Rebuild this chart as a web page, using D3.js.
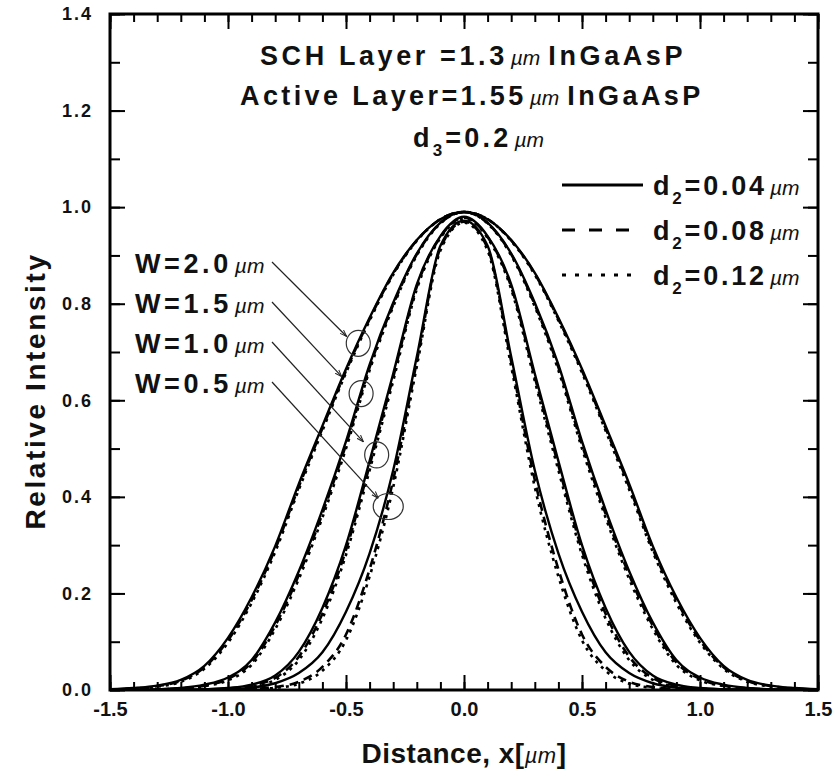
<!DOCTYPE html>
<html>
<head>
<meta charset="utf-8">
<script src="https://cdn.jsdelivr.net/npm/d3@7"></script>
<style>
  body { margin: 0; background: #fff; }
  text { font-family: "Liberation Sans", Arial, sans-serif; }
</style>
</head>
<body>
<svg width="838" height="776"></svg>
<script>
// distance grid (um)
var xValues = [-1.5, -1.4, -1.3, -1.2, -1.1, -1.0, -0.9, -0.8, -0.7, -0.6, -0.5, -0.4, -0.3, -0.2, -0.1,
  0.0, 0.1, 0.2, 0.3, 0.4, 0.5, 0.6, 0.7, 0.8, 0.9, 1.0, 1.1, 1.2, 1.3, 1.4, 1.5];

var widths = ["2.0", "1.5", "1.0", "0.5"];
var d2Values = ["0.04", "0.08", "0.12"];

// d2 = 0.04 um (solid)
var solidW20 = [0.0015, 0.004, 0.009, 0.021, 0.05, 0.108, 0.192, 0.298, 0.427, 0.547, 0.665, 0.771, 0.864, 0.932, 0.975, 0.99, 0.975, 0.932, 0.864, 0.771, 0.665, 0.547, 0.427, 0.298, 0.192, 0.108, 0.05, 0.021, 0.009, 0.004, 0.0015];
var solidW15 = [0.0002, 0.0005, 0.0015, 0.004, 0.011, 0.026, 0.062, 0.14, 0.246, 0.373, 0.515, 0.674, 0.802, 0.904, 0.968, 0.99, 0.968, 0.904, 0.802, 0.674, 0.515, 0.373, 0.246, 0.14, 0.062, 0.026, 0.011, 0.004, 0.0015, 0.0005, 0.0002];
var solidW10 = [0, 0.0001, 0.0002, 0.0005, 0.0015, 0.004, 0.011, 0.03, 0.079, 0.17, 0.3, 0.474, 0.655, 0.84, 0.94, 0.98, 0.94, 0.84, 0.655, 0.474, 0.3, 0.17, 0.079, 0.03, 0.011, 0.004, 0.0015, 0.0005, 0.0002, 0.0001, 0];
var solidW05 = [0, 0, 0.0001, 0.0003, 0.0007, 0.002, 0.005, 0.014, 0.035, 0.078, 0.162, 0.283, 0.455, 0.69, 0.92, 0.972, 0.92, 0.69, 0.455, 0.283, 0.162, 0.078, 0.035, 0.014, 0.005, 0.002, 0.0007, 0.0003, 0.0001, 0, 0];

// d2 = 0.08 um (dashed)
var dashW20 = [0.001, 0.003, 0.008, 0.019, 0.047, 0.103, 0.186, 0.292, 0.421, 0.542, 0.661, 0.768, 0.862, 0.931, 0.975, 0.99, 0.975, 0.931, 0.862, 0.768, 0.661, 0.542, 0.421, 0.292, 0.186, 0.103, 0.047, 0.019, 0.008, 0.003, 0.001];
var dashW15 = [0.0001, 0.0004, 0.0012, 0.0035, 0.009, 0.023, 0.057, 0.133, 0.238, 0.365, 0.508, 0.668, 0.798, 0.902, 0.967, 0.99, 0.967, 0.902, 0.798, 0.668, 0.508, 0.365, 0.238, 0.133, 0.057, 0.023, 0.009, 0.0035, 0.0012, 0.0004, 0.0001];
var dashW10 = [0, 0, 0.0001, 0.0003, 0.001, 0.003, 0.009, 0.025, 0.069, 0.158, 0.29, 0.465, 0.648, 0.835, 0.938, 0.978, 0.938, 0.835, 0.648, 0.465, 0.29, 0.158, 0.069, 0.025, 0.009, 0.003, 0.001, 0.0003, 0.0001, 0, 0];
var dashW05 = [0, 0, 0, 0.0001, 0.0002, 0.0007, 0.002, 0.006, 0.017, 0.048, 0.115, 0.25, 0.435, 0.68, 0.915, 0.97, 0.915, 0.68, 0.435, 0.25, 0.115, 0.048, 0.017, 0.006, 0.002, 0.0007, 0.0002, 0.0001, 0, 0, 0];

// d2 = 0.12 um (dotted)
var dotW20 = [0.001, 0.0025, 0.007, 0.017, 0.044, 0.098, 0.18, 0.286, 0.415, 0.537, 0.657, 0.765, 0.86, 0.93, 0.975, 0.99, 0.975, 0.93, 0.86, 0.765, 0.657, 0.537, 0.415, 0.286, 0.18, 0.098, 0.044, 0.017, 0.007, 0.0025, 0.001];
var dotW15 = [0.0001, 0.0003, 0.001, 0.003, 0.008, 0.02, 0.052, 0.126, 0.23, 0.357, 0.5, 0.662, 0.794, 0.9, 0.966, 0.99, 0.966, 0.9, 0.794, 0.662, 0.5, 0.357, 0.23, 0.126, 0.052, 0.02, 0.008, 0.003, 0.001, 0.0003, 0.0001];
var dotW10 = [0, 0, 0.0001, 0.0002, 0.0008, 0.0025, 0.007, 0.021, 0.062, 0.148, 0.28, 0.455, 0.64, 0.83, 0.936, 0.976, 0.936, 0.83, 0.64, 0.455, 0.28, 0.148, 0.062, 0.021, 0.007, 0.0025, 0.0008, 0.0002, 0.0001, 0, 0];
var dotW05 = [0, 0, 0, 0, 0.0002, 0.0005, 0.0015, 0.0045, 0.013, 0.04, 0.103, 0.235, 0.42, 0.67, 0.91, 0.968, 0.91, 0.67, 0.42, 0.235, 0.103, 0.04, 0.013, 0.0045, 0.0015, 0.0005, 0.0002, 0, 0, 0, 0];

// marker circles and arrow tips for the W labels (data coords)
var circleX = [-0.448, -0.436, -0.37, -0.321];
var circleY = [0.718, 0.614, 0.487, 0.38];
var arrowX = [-0.497, -0.518, -0.426, -0.363];
var arrowY = [0.732, 0.649, 0.514, 0.397];

var xMajor = [-1.5, -1.0, -0.5, 0.0, 0.5, 1.0, 1.5];
var yMajor = [0.0, 0.2, 0.4, 0.6, 0.8, 1.0, 1.2, 1.4];

var svg = d3.select("svg");
var plotLeft = 110, plotRight = 818, plotTop = 14, plotBottom = 690;

var x = d3.scaleLinear().domain([-1.5, 1.5]).range([plotLeft, plotRight]);
var y = d3.scaleLinear().domain([0, 1.4]).range([plotBottom, plotTop]);

var xMinor = d3.range(-15, 16).map(function(i) { return i / 10; });
var yMinor = d3.range(0, 15).map(function(i) { return i / 10; });

var defs = svg.append("defs");
defs.append("clipPath").attr("id", "plot")
  .append("rect").attr("x", plotLeft).attr("y", plotTop)
  .attr("width", plotRight - plotLeft).attr("height", plotBottom - plotTop);

defs.append("marker")
    .attr("id", "arrow")
    .attr("viewBox", "0 -5 10 10")
    .attr("refX", 10)
    .attr("refY", 0)
    .attr("markerWidth", 7)
    .attr("markerHeight", 7)
    .attr("markerUnits", "userSpaceOnUse")
    .attr("orient", "auto")
  .append("path")
    .attr("d", "M0,-3.5L10,0L0,3.5")
    .attr("fill", "none")
    .attr("stroke", "#222")
    .attr("stroke-width", 1.4);

// ---- axes (inward ticks on all four sides) ----
function styleAxis(g) {
  g.select(".domain").remove();
  g.selectAll("line").attr("stroke", "#000").attr("stroke-width", 2);
}

svg.append("g").attr("transform", "translate(0," + plotBottom + ")")
  .call(d3.axisBottom(x).tickValues(xMinor).tickSize(-8).tickFormat(""))
  .call(styleAxis);
svg.append("g").attr("transform", "translate(0," + plotTop + ")")
  .call(d3.axisTop(x).tickValues(xMinor).tickSize(-8).tickFormat(""))
  .call(styleAxis);
svg.append("g").attr("transform", "translate(" + plotLeft + ",0)")
  .call(d3.axisLeft(y).tickValues(yMinor).tickSize(-10).tickFormat(""))
  .call(styleAxis);
svg.append("g").attr("transform", "translate(" + plotRight + ",0)")
  .call(d3.axisRight(y).tickValues(yMinor).tickSize(-10).tickFormat(""))
  .call(styleAxis);

var xAxis = svg.append("g").attr("transform", "translate(0," + plotBottom + ")")
  .call(d3.axisBottom(x).tickValues(xMajor).tickSize(-15).tickPadding(12).tickFormat(d3.format(".1f")))
  .call(styleAxis);
svg.append("g").attr("transform", "translate(0," + plotTop + ")")
  .call(d3.axisTop(x).tickValues(xMajor).tickSize(-15).tickFormat(""))
  .call(styleAxis);
var yAxis = svg.append("g").attr("transform", "translate(" + plotLeft + ",0)")
  .call(d3.axisLeft(y).tickValues(yMajor).tickSize(-15).tickPadding(17).tickFormat(d3.format(".1f")))
  .call(styleAxis);
svg.append("g").attr("transform", "translate(" + plotRight + ",0)")
  .call(d3.axisRight(y).tickValues(yMajor).tickSize(-15).tickFormat(""))
  .call(styleAxis);

xAxis.selectAll("text").attr("font-size", 20).attr("font-weight", "bold")
  .attr("font-family", "'Liberation Sans', Arial, sans-serif").attr("fill", "#111")
  .text(function(d) { return d3.format(".1f")(d).replace("\u2212", "-"); });
yAxis.selectAll("text").attr("font-size", 18).attr("font-weight", "bold")
  .attr("letter-spacing", 2)
  .attr("font-family", "'Liberation Sans', Arial, sans-serif").attr("fill", "#111");

// ---- curves ----
var line = d3.line()
  .x(function(d, i) { return x(xValues[i]); })
  .y(function(d) { return y(d); })
  .curve(d3.curveMonotoneX);

var curves = svg.append("g").attr("clip-path", "url(#plot)");

[dotW20, dotW15, dotW10, dotW05].forEach(function(s) {
  curves.append("path").attr("d", line(s)).attr("fill", "none")
    .attr("stroke", "#000").attr("stroke-width", 2.6).attr("stroke-dasharray", "3,5");
});
[dashW20, dashW15, dashW10, dashW05].forEach(function(s) {
  curves.append("path").attr("d", line(s)).attr("fill", "none")
    .attr("stroke", "#000").attr("stroke-width", 2.6).attr("stroke-dasharray", "9,6");
});
[solidW20, solidW15, solidW10, solidW05].forEach(function(s) {
  curves.append("path").attr("d", line(s)).attr("fill", "none")
    .attr("stroke", "#000").attr("stroke-width", 2.4);
});

// frame
svg.append("rect").attr("x", plotLeft).attr("y", plotTop)
  .attr("width", plotRight - plotLeft).attr("height", plotBottom - plotTop)
  .attr("fill", "none").attr("stroke", "#000").attr("stroke-width", 3);

// ---- text helpers ----
function um(t, size) {
  t.append("tspan").attr("font-family", "'Liberation Sans Narrow', 'Liberation Sans', sans-serif")
    .attr("font-style", "italic").attr("font-weight", "normal")
    .attr("font-size", size).attr("letter-spacing", 0).attr("dx", 3).text("\u00b5m");
}
function boldText(xp, yp, size, spacing) {
  return svg.append("text").attr("x", xp).attr("y", yp)
    .attr("font-size", size).attr("font-weight", "bold")
    .attr("letter-spacing", spacing).attr("fill", "#111");
}

// headline block
var t1 = boldText(260, 65, 27, 3.6);
t1.append("tspan").text("SCH Layer =1.3");
um(t1, 21);
t1.append("tspan").attr("dx", 8).text("InGaAsP");

var t2 = boldText(240, 105, 27, 3.4);
t2.append("tspan").text("Active Layer=1.55");
um(t2, 21);
t2.append("tspan").attr("dx", 8).text("InGaAsP");

var t3 = boldText(413, 147, 27, 3.2);
t3.append("tspan").text("d");
t3.append("tspan").attr("font-size", 17).attr("dy", 9).text("3");
t3.append("tspan").attr("dy", -9).text("=0.2");
um(t3, 21);

// legend
var legendY = [185, 230, 275];
var legendEnd = [643, 632, 632];
var legendDash = [null, "13,14", "4,9"];
d2Values.forEach(function(v, i) {
  svg.append("line").attr("x1", 562).attr("x2", legendEnd[i])
    .attr("y1", legendY[i]).attr("y2", legendY[i])
    .attr("stroke", "#000").attr("stroke-width", 3)
    .attr("stroke-dasharray", legendDash[i]);
  var t = boldText(653, legendY[i] + 10, 27, 2.8);
  t.append("tspan").text("d");
  t.append("tspan").attr("font-size", 17).attr("dy", 9).text("2");
  t.append("tspan").attr("dy", -9).text("=" + v);
  um(t, 21);
});

// W labels, leader arrows and circles
widths.forEach(function(w, i) {
  var by = 273 + i * 40;
  var t = boldText(135, by, 27, 3.6);
  t.append("tspan").text("W=" + w);
  um(t, 21);
  svg.append("line").attr("x1", 272).attr("y1", by - 11)
    .attr("x2", x(arrowX[i])).attr("y2", y(arrowY[i]))
    .attr("stroke", "#222").attr("stroke-width", 1.2)
    .attr("marker-end", "url(#arrow)");
  svg.append("ellipse").attr("cx", x(circleX[i])).attr("cy", y(circleY[i]))
    .attr("rx", i === 3 ? 15 : 12).attr("ry", 13)
    .attr("fill", "none").attr("stroke", "#333").attr("stroke-width", 1.2);
});

// axis titles
var xt = boldText((plotLeft + plotRight) / 2, 763, 28, 0.5).attr("text-anchor", "middle");
xt.append("tspan").text("Distance, x[");
xt.append("tspan").attr("font-family", "'Liberation Sans Narrow', 'Liberation Sans', sans-serif")
  .attr("font-style", "italic").attr("font-weight", "normal").attr("font-size", 22).text("\u00b5m");
xt.append("tspan").text("]");

boldText(0, 0, 28, 2.6).attr("text-anchor", "middle")
  .attr("transform", "translate(45,391) rotate(-90)")
  .text("Relative Intensity");
</script>
</body>
</html>
